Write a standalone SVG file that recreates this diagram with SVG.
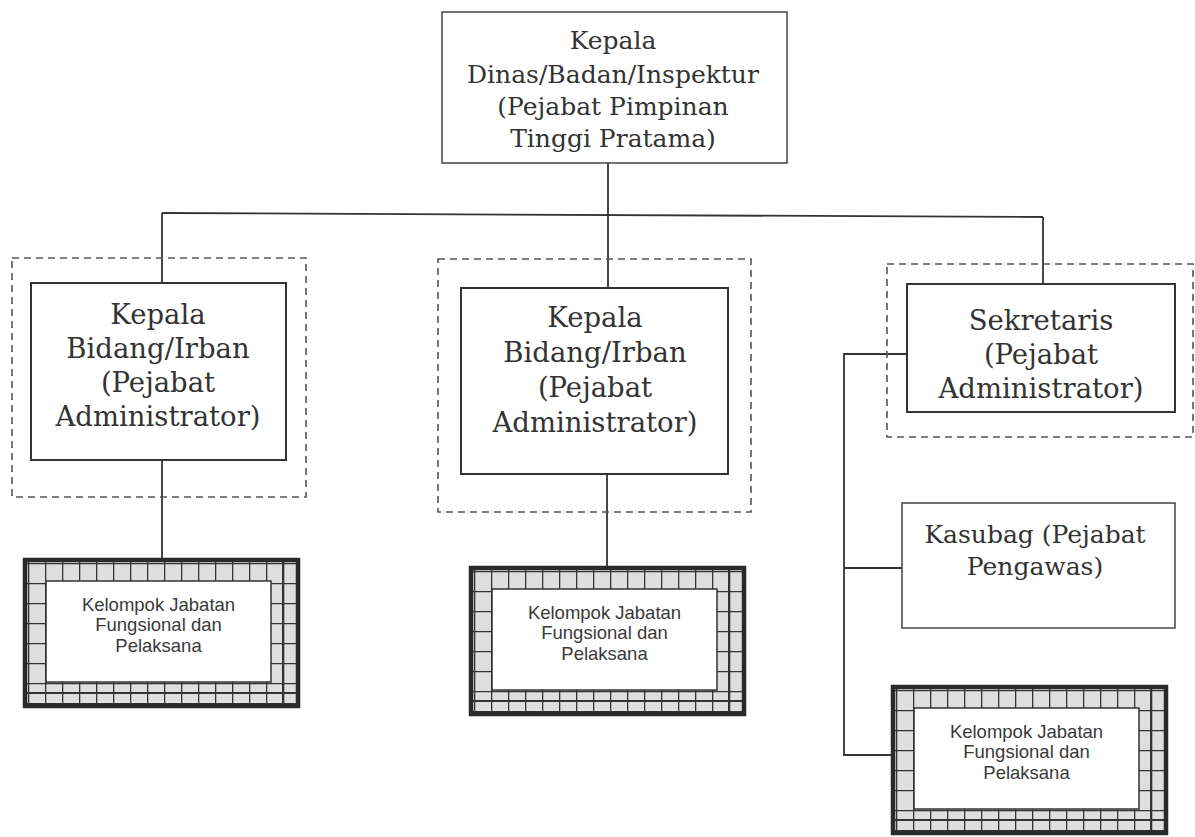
<svg xmlns="http://www.w3.org/2000/svg" width="1195" height="837" viewBox="0 0 1195 837">
  <defs>
    <style>
      .box { fill: #ffffff; stroke: #333333; stroke-width: 2; }
      .thin { fill: #ffffff; stroke: #444444; stroke-width: 1.5; }
      .dash { fill: none; stroke: #555555; stroke-width: 1.6; stroke-dasharray: 7 5; }
      .wire { fill: none; stroke: #333333; stroke-width: 1.8; }
      .t1 { font-family: "DejaVu Serif", "Liberation Serif", serif; font-size: 25px; fill: #333333; text-anchor: middle; }
      .t2 { font-family: "DejaVu Serif", "Liberation Serif", serif; font-size: 27.5px; fill: #333333; text-anchor: middle; }
      .t3 { font-family: "Liberation Sans", Arial, sans-serif; font-size: 18.5px; fill: #3a3a3a; text-anchor: middle; }
      .band { fill: url(#cells); fill-rule: evenodd; }
      .rim { fill: none; stroke: #2a2a2a; stroke-width: 4.5; }
      .inner { fill: #ffffff; stroke: #333333; stroke-width: 1.5; }
    </style>
    <!-- grid cells of the patterned border, in each node's local space -->
    <pattern id="cells" patternUnits="userSpaceOnUse" x="3" y="3" width="17" height="20">
      <rect width="17" height="20" fill="#dedede"/>
      <path d="M0 0H17M0 0V20" stroke="#333333" stroke-width="2.6"/>
    </pattern>
    <!-- patterned-border box, 273 x 146 -->
    <g id="kjBox">
      <path class="band" d="M0 0H273V146H0Z M21 21V122H246V21Z"/>
      <path d="M0 133H273M258 0V146" stroke="#333333" stroke-width="2" fill="none"/>
      <rect class="inner" x="21" y="21" width="225" height="101"/>
      <rect class="rim" x="0" y="0" width="273" height="146"/>
      <text class="t3" x="133.5" y="51">Kelompok Jabatan</text>
      <text class="t3" x="133.5" y="71">Fungsional dan</text>
      <text class="t3" x="133.5" y="92">Pelaksana</text>
    </g>
  </defs>

  <rect width="1195" height="837" fill="#ffffff"/>

  <!-- connectors -->
  <g id="connectors">
    <path class="wire" d="M608 163V288"/>
    <path class="wire" d="M162 213L1043 217"/>
    <path class="wire" d="M162 213V283"/>
    <path class="wire" d="M1043 217V284"/>
    <path class="wire" d="M162 460V560"/>
    <path class="wire" d="M607 474V567"/>
    <path class="wire" d="M907 354H844V755H893"/>
    <path class="wire" d="M844 568H902"/>
  </g>

  <!-- head of office -->
  <g id="kepala-dinas">
    <rect class="thin" x="442" y="12" width="345" height="151"/>
    <text class="t1" x="613" y="49">Kepala</text>
    <text class="t1" x="613" y="83">Dinas/Badan/Inspektur</text>
    <text class="t1" x="613" y="115">(Pejabat Pimpinan</text>
    <text class="t1" x="613" y="147">Tinggi Pratama)</text>
  </g>

  <!-- left division -->
  <g id="bidang-kiri">
    <rect class="dash" x="12" y="258" width="294" height="239"/>
    <rect class="box" x="31" y="283" width="255" height="177"/>
    <text class="t2" x="158" y="324">Kepala</text>
    <text class="t2" x="158" y="358">Bidang/Irban</text>
    <text class="t2" x="158" y="392">(Pejabat</text>
    <text class="t2" x="158" y="426">Administrator)</text>
  </g>

  <!-- middle division -->
  <g id="bidang-tengah">
    <rect class="dash" x="438" y="259" width="313" height="253"/>
    <rect class="box" x="461" y="288" width="267" height="186"/>
    <text class="t2" x="595" y="327">Kepala</text>
    <text class="t2" x="595" y="362">Bidang/Irban</text>
    <text class="t2" x="595" y="397">(Pejabat</text>
    <text class="t2" x="595" y="432">Administrator)</text>
  </g>

  <!-- secretary -->
  <g id="sekretaris">
    <rect class="dash" x="887" y="264" width="306" height="173"/>
    <rect class="box" x="907" y="284" width="268" height="128"/>
    <text class="t2" x="1041" y="330">Sekretaris</text>
    <text class="t2" x="1041" y="364">(Pejabat</text>
    <text class="t2" x="1041" y="398">Administrator)</text>
  </g>

  <!-- sub-division head -->
  <g id="kasubag">
    <rect class="thin" x="902" y="503" width="273" height="125"/>
    <text class="t1" x="1035" y="543">Kasubag (Pejabat</text>
    <text class="t1" x="1035" y="575">Pengawas)</text>
  </g>

  <!-- functional groups -->
  <g id="kelompok-kiri" transform="translate(25 560)">
    <use href="#kjBox"/>
  </g>
  <g id="kelompok-tengah" transform="translate(471 568)">
    <use href="#kjBox"/>
  </g>
  <g id="kelompok-kanan" transform="translate(893 687)">
    <use href="#kjBox"/>
  </g>
</svg>
